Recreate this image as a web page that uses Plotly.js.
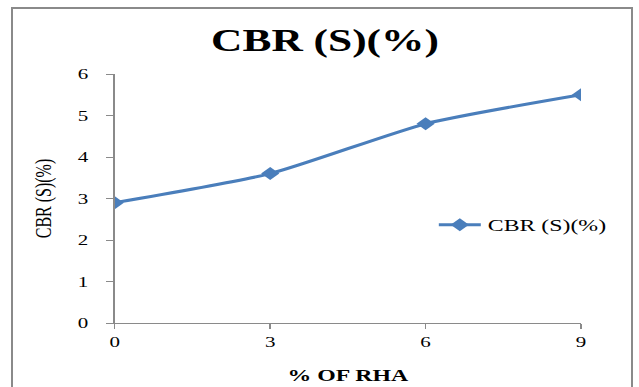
<!DOCTYPE html>
<html>
<head>
<meta charset="utf-8">
<script src="https://cdn.plot.ly/plotly-3.0.1.min.js"></script>
<style>
  html, body { margin: 0; padding: 0; background: #ffffff; }
  #wrap { position: relative; width: 639px; height: 387px; overflow: hidden; }
  #frame { position: absolute; left: 11px; top: 7px; width: 622px; height: 400px;
           border: 2px solid #8a8a8a; box-sizing: border-box; pointer-events: none; }
  /* the chart is laid out narrow and widened, giving the broad lettering of the printed figure */
  #chart { position: absolute; left: 0; top: 0; width: 457px; height: 387px;
           transform: scaleX(1.4); transform-origin: 0 0; }
</style>
</head>
<body>
<div id="wrap">
  <div id="chart"></div>
  <div id="frame"></div>
</div>
<script>
// % of rice husk ash added and the resulting soaked CBR
const rhaPercent = [0, 3, 6, 9];
const cbrValues = [2.9, 3.6, 4.8, 5.5];
const seriesName = 'CBR (S)(%)';
const xTicks = [0, 3, 6, 9];
const yTicks = [0, 1, 2, 3, 4, 5, 6];

const serif = "'Liberation Serif', 'Times New Roman', serif";

const trace = {
  x: rhaPercent,
  y: cbrValues,
  name: seriesName,
  type: 'scatter',
  mode: 'lines+markers',
  line: { color: '#4a7ebb', width: 3, shape: 'spline', smoothing: 0.6 },
  marker: { symbol: 'diamond', size: 10, color: '#4a7ebb' },
  showlegend: true
};

const layout = {
  width: 457,
  height: 387,
  paper_bgcolor: '#ffffff',
  plot_bgcolor: '#ffffff',
  margin: { l: 82, r: 42, t: 74, b: 64 },
  title: {
    text: '<b>CBR (S)(%)</b>',
    font: { family: serif, size: 31, color: '#000000' },
    x: 0.508, xanchor: 'center',
    y: 0.897, yanchor: 'middle'
  },
  xaxis: {
    range: [0, 9],
    tickvals: xTicks,
    ticktext: xTicks.map(String),
    showgrid: false,
    zeroline: false,
    showline: true,
    linecolor: '#8a8a8a',
    linewidth: 1,
    ticks: 'outside',
    ticklen: 5,
    tickcolor: '#8a8a8a',
    tickfont: { family: serif, size: 15, color: '#000000' },
    title: {
      text: '<b>% OF RHA</b>',
      font: { family: serif, size: 17, color: '#000000' },
      standoff: 20
    }
  },
  yaxis: {
    range: [0, 6],
    tickvals: yTicks,
    showgrid: false,
    zeroline: false,
    showline: true,
    linecolor: '#8a8a8a',
    linewidth: 1,
    ticks: 'outside',
    ticklen: 5,
    tickcolor: '#8a8a8a',
    ticklabelstandoff: 10,
    tickfont: { family: serif, size: 15, color: '#000000' },
    title: {
      text: 'CBR (S)(%)',
      font: { family: serif, size: 16, color: '#000000' },
      standoff: 14
    }
  },
  legend: {
    x: 0.68, xanchor: 'left',
    y: 0.393, yanchor: 'middle',
    bgcolor: 'rgba(0,0,0,0)',
    font: { family: serif, size: 17, color: '#000000' }
  }
};

Plotly.newPlot('chart', [trace], layout, { displayModeBar: false, staticPlot: true });
</script>
</body>
</html>
